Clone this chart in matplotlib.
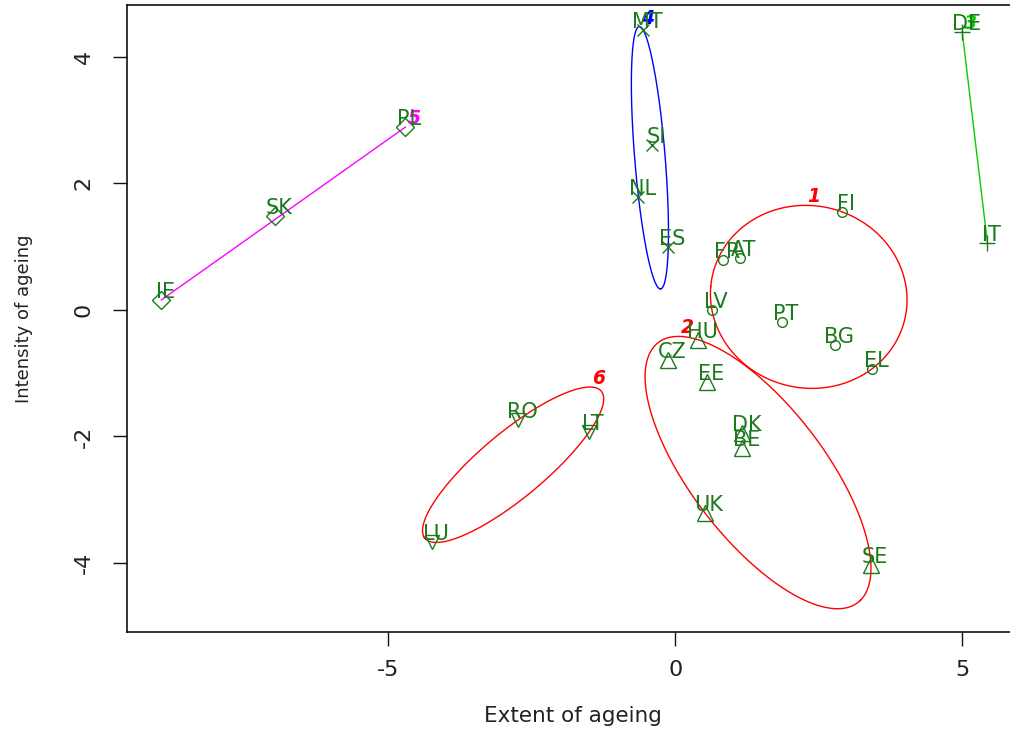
import numpy as np
import matplotlib
matplotlib.use("Agg")
import matplotlib.pyplot as plt
from matplotlib.transforms import offset_copy

# country codes, cluster membership and the two ageing scores
countries = ["FI", "FR", "AT", "LV", "PT", "BG", "EL",
             "HU", "CZ", "EE", "DK", "BE", "UK", "SE",
             "DE", "IT",
             "MT", "SI", "NL", "ES",
             "PL", "SK", "IE",
             "RO", "LT", "LU"]
cluster = [1, 1, 1, 1, 1, 1, 1,
           2, 2, 2, 2, 2, 2, 2,
           3, 3,
           4, 4, 4, 4,
           5, 5, 5,
           6, 6, 6]
extent = [2.91, 0.84, 1.13, 0.64, 1.86, 2.79, 3.43,
          0.40, -0.12, 0.56, 1.17, 1.17, 0.52, 3.41,
          5.00, 5.44,
          -0.56, -0.40, -0.64, -0.12,
          -4.70, -6.97, -8.95,
          -2.74, -1.50, -4.23]
intensity = [1.55, 0.79, 0.82, 0.00, -0.19, -0.55, -0.93,
             -0.47, -0.79, -1.14, -1.94, -2.18, -3.21, -4.03,
             4.40, 1.06,
             4.43, 2.61, 1.79, 1.00,
             2.89, 1.49, 0.16,
             -1.74, -1.93, -3.67]

# R pch 1..6 equivalents and the colour of each cluster outline
markers = {1: ("o", 7), 2: ("^", 12), 3: ("+", 12), 4: ("x", 8), 5: ("D", 9), 6: ("v", 10)}
outline = {1: "#ff0000", 2: "#ff0000", 3: "#00d000", 4: "#0000ff", 5: "#ff00ff", 6: "#ff0000"}
pt_col = "#1c7a1c"


def min_volume_ellipse(P, tol=1e-6, max_iter=5000):
    # Khachiyan's algorithm for the smallest ellipse containing all points
    N, d = P.shape
    Q = np.vstack([P.T, np.ones(N)])
    u = np.ones(N) / N
    for _ in range(max_iter):
        X = Q @ np.diag(u) @ Q.T
        M = np.einsum("ij,ji->i", Q.T @ np.linalg.inv(X), Q)
        j = np.argmax(M)
        step = (M[j] - d - 1) / ((d + 1) * (M[j] - 1))
        new_u = (1 - step) * u
        new_u[j] += step
        err = np.linalg.norm(new_u - u)
        u = new_u
        if err < tol:
            break
    c = P.T @ u
    A = np.linalg.inv(P.T @ np.diag(u) @ P - np.outer(c, c)) / d
    w, V = np.linalg.eigh(A)
    t = np.linspace(0, 2 * np.pi, 400)
    pts = c[:, None] + V @ (np.diag(1 / np.sqrt(w)) @ np.vstack([np.cos(t), np.sin(t)]))
    return pts[0], pts[1]


plt.rcParams["font.family"] = "DejaVu Sans"
fig = plt.figure(figsize=(10.10, 7.32), dpi=100)
ax = fig.add_axes([127 / 1010, 100 / 732, 892 / 1010, 627 / 732])

x = np.array(extent)
y = np.array(intensity)
cl = np.array(cluster)

for k in sorted(set(cluster)):
    sel = cl == k
    P = np.column_stack([x[sel], y[sel]])
    if k in (3, 5):
        # near-collinear groups are joined by a segment between the end points
        order = np.argsort(P[:, 0])
        ex, ey = P[order[[0, -1]], 0], P[order[[0, -1]], 1]
    else:
        ex, ey = min_volume_ellipse(P)
    ax.plot(ex, ey, color=outline[k], lw=1.0, zorder=2)
    top = np.argmax(ey)
    tr = offset_copy(ax.transData, fig=fig, x=2, y=3, units="dots")
    ax.text(ex[top], ey[top], str(k), transform=tr, color=outline[k],
            fontsize=13.5, fontweight="bold", fontstyle="italic",
            ha="left", va="baseline", zorder=4)
    m, ms = markers[k]
    ax.plot(x[sel], y[sel], linestyle="none", marker=m, markersize=ms,
            markerfacecolor="none", markeredgecolor=pt_col, markeredgewidth=1.0, zorder=3)

lab_tr = offset_copy(ax.transData, fig=fig, x=4, y=2, units="dots")
for name, xi, yi in zip(countries, extent, intensity):
    ax.text(xi, yi, name, transform=lab_tr, color=pt_col, fontsize=15,
            ha="center", va="baseline", zorder=4)

ax.set_xlim(-9.55, 5.99)
ax.set_ylim(-5.09, 4.82)
ax.set_xticks([-5, 0, 5])
ax.set_yticks([-4, -2, 0, 2, 4])
ax.set_xticklabels(["-5", "0", "5"])
ax.set_yticklabels(["-4", "-2", "0", "2", "4"], rotation=90, va="center")
ax.tick_params(axis="both", direction="out", length=10, width=1.0,
               labelsize=16, colors="#111111", labelcolor="#222222")
ax.tick_params(axis="x", pad=10)
ax.tick_params(axis="y", pad=14)
for s in ax.spines.values():
    s.set_linewidth(1.2)
    s.set_color("#111111")

ax.set_xlabel("Extent of ageing", fontsize=15.5, color="#222222")
ax.set_ylabel("Intensity of ageing", fontsize=13, color="#222222")
ax.xaxis.set_label_coords(0.5, -0.118)
ax.yaxis.set_label_coords(-0.105, 0.5)

fig.savefig("out.png", dpi=100)
